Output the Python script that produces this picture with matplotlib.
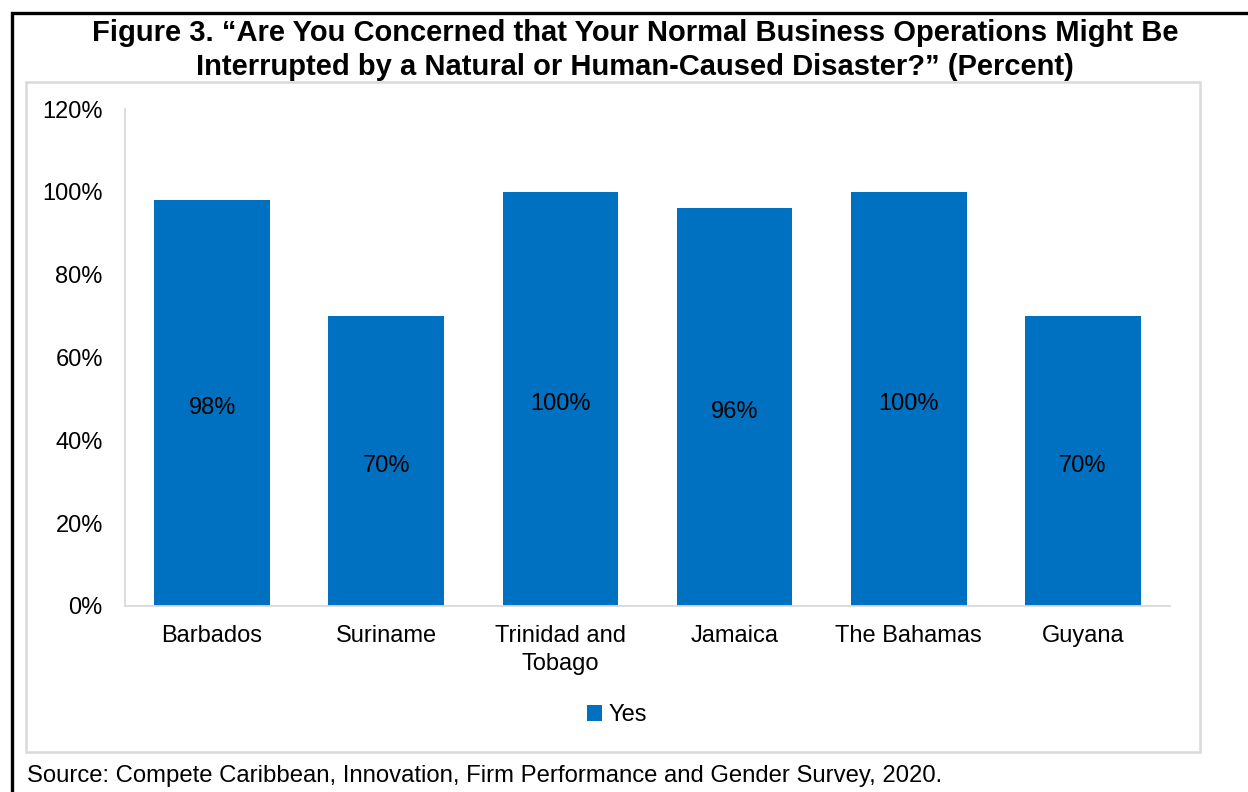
import matplotlib
matplotlib.use('Agg')
import matplotlib.pyplot as plt
from matplotlib.patches import Rectangle
from matplotlib import ticker

plt.rcParams['font.family'] = ['Liberation Sans', 'DejaVu Sans']

countries = ['Barbados', 'Suriname', 'Trinidad and\nTobago', 'Jamaica', 'The Bahamas', 'Guyana']
yes_share = [0.98, 0.70, 1.00, 0.96, 1.00, 0.70]
y_ticks = [0, 0.2, 0.4, 0.6, 0.8, 1.0, 1.2]
title_lines = ['Figure 3. \u201cAre You Concerned that Your Normal Business Operations Might Be',
               'Interrupted by a Natural or Human-Caused Disaster?\u201d (Percent)']

W, H = 1248, 792
fig = plt.figure(figsize=(W / 100, H / 100), dpi=100)


def px(x0, y0, x1, y1):
    # pixel box (top-left origin) -> figure fraction rect
    return [x0 / W, 1 - y1 / H, (x1 - x0) / W, (y1 - y0) / H]


# outer black frame, running off the right and bottom edges
fig.patches.append(Rectangle((12 / W, -0.05), 1.2, 1 - 13 / H + 0.05, transform=fig.transFigure,
                             fill=False, edgecolor='black', linewidth=2.4))
# light grey chart area
fig.patches.append(Rectangle((26 / W, 1 - 752 / H), (1200 - 26) / W, (752 - 82) / H,
                             transform=fig.transFigure, fill=False, edgecolor='#d9d9d9', linewidth=1.8))

for line, ypx in zip(title_lines, [33, 67]):
    fig.text(635 / W, 1 - ypx / H, line, ha='center', va='center', fontsize=21, fontweight='bold')

ax = fig.add_axes(px(125, 109, 1170, 606))
x = range(len(countries))
bars = ax.bar(x, yes_share, width=0.665, color='#0070C0', label='Yes', zorder=2)
for xi, v in zip(x, yes_share):
    ax.annotate('%d%%' % round(v * 100), (xi, v / 2), xytext=(0, -3.5), textcoords='offset points',
                ha='center', va='center', fontsize=17, color='black')

ax.set_xlim(-0.5, len(countries) - 0.5)
ax.set_ylim(0, 1.2)
ax.set_yticks(y_ticks)
ax.yaxis.set_major_formatter(ticker.FuncFormatter(lambda v, pos: '%d%%' % round(v * 100)))
ax.set_xticks(list(x))
ax.set_xticklabels(countries, fontsize=17, linespacing=1.3)
ax.tick_params(axis='y', labelsize=17, length=0, pad=16)
ax.tick_params(axis='x', length=0, pad=14)
for s in ['top', 'right']:
    ax.spines[s].set_visible(False)
ax.spines['left'].set_color('#d9d9d9')
ax.spines['bottom'].set_color('#d9d9d9')
ax.spines['left'].set_linewidth(1.3)
ax.spines['bottom'].set_linewidth(1.3)

leg = fig.legend(handles=[bars], labels=['Yes'], loc='center', bbox_to_anchor=(617 / W, 1 - 715 / H),
                 frameon=False, fontsize=17, handlelength=0.65, handleheight=0.65, handletextpad=0.3)

fig.text(27 / W, 1 - 776 / H, 'Source: Compete Caribbean, Innovation, Firm Performance and Gender Survey, 2020.',
         ha='left', va='center', fontsize=17.2)

fig.savefig('out.png', dpi=100)
